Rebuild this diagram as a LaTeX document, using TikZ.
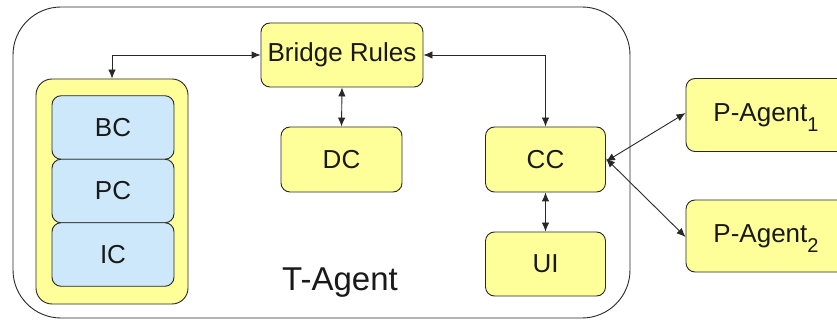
\documentclass[tikz,border=0pt]{standalone}
\usepackage{fontspec}
\setmainfont{Liberation Sans}
\usetikzlibrary{arrows.meta}
\definecolor{boxyellow}{RGB}{255,255,153}
\definecolor{boxblue}{RGB}{204,232,250}
\definecolor{inkline}{RGB}{40,40,40}
\definecolor{inktext}{RGB}{25,25,25}
\newcommand{\sublow}[1]{\smash{\raisebox{-10pt}{\fontsize{20}{22}\selectfont #1}}}
\begin{document}
\begin{tikzpicture}[x=1pt,y=-1pt,
  comp/.style={draw=inkline, line width=0.9pt, rounded corners=9pt, fill=boxyellow,
    text=inktext, font=\fontsize{26}{30}\selectfont, inner sep=0pt, align=center},
  kbox/.style={comp, fill=boxblue, minimum width=122pt, minimum height=63.5pt},
  link/.style={draw=inkline, line width=0.9pt, {Latex[length=9pt,width=7.5pt]}-{Latex[length=9pt,width=7.5pt]}}]
  \useasboundingbox (0,0) rectangle (837,320);
  \clip (0,0) rectangle (837,320);
  % T-Agent container
  \node[draw=inkline, line width=0.9pt, rounded corners=48pt, minimum width=617pt,
        minimum height=311pt, inner sep=0pt] (tagent) at (321.5,162.5) {};
  \node[text=inktext, font=\fontsize{33}{38}\selectfont] (tlabel) at (340,283) {T-Agent};
  % knowledge stack
  \node[comp, rounded corners=16pt, minimum width=152pt, minimum height=225pt] (stack) at (112,191.5) {};
  \node[kbox] (bc) at (113,127.5) {BC};
  \node[kbox] (pc) at (113,191) {PC};
  \node[kbox] (ic) at (113,254.5) {IC};
  % other components
  \node[comp, minimum width=162pt, minimum height=64pt] (bridge) at (342,55) {Bridge Rules};
  \node[comp, minimum width=121pt, minimum height=65pt] (dc) at (341.5,159.5) {DC};
  \node[comp, minimum width=120pt, minimum height=65pt] (cc) at (545.5,159.5) {CC};
  \node[comp, minimum width=120pt, minimum height=64pt] (ui) at (545.5,264) {UI};
  \node[comp, minimum width=160pt, minimum height=73pt] (pa1) at (766,115) {P-Agent\sublow{1}};
  \node[comp, minimum width=160pt, minimum height=72pt] (pa2) at (766,236) {P-Agent\sublow{2}};
  % connectors
  \draw[link] (bridge.west) -| (stack.north);
  \draw[link] (bridge.east) -| (cc.north);
  \draw[link] (bridge.south) -- (dc.north);
  \draw[link] (cc.south) -- (ui.north);
  \draw[link] ([yshift=-2pt]cc.east) -- ([yshift=2pt]pa1.west);
  \draw[link] ([yshift=1pt]cc.east) -- ([yshift=-1pt]pa2.west);
\end{tikzpicture}
\end{document}
